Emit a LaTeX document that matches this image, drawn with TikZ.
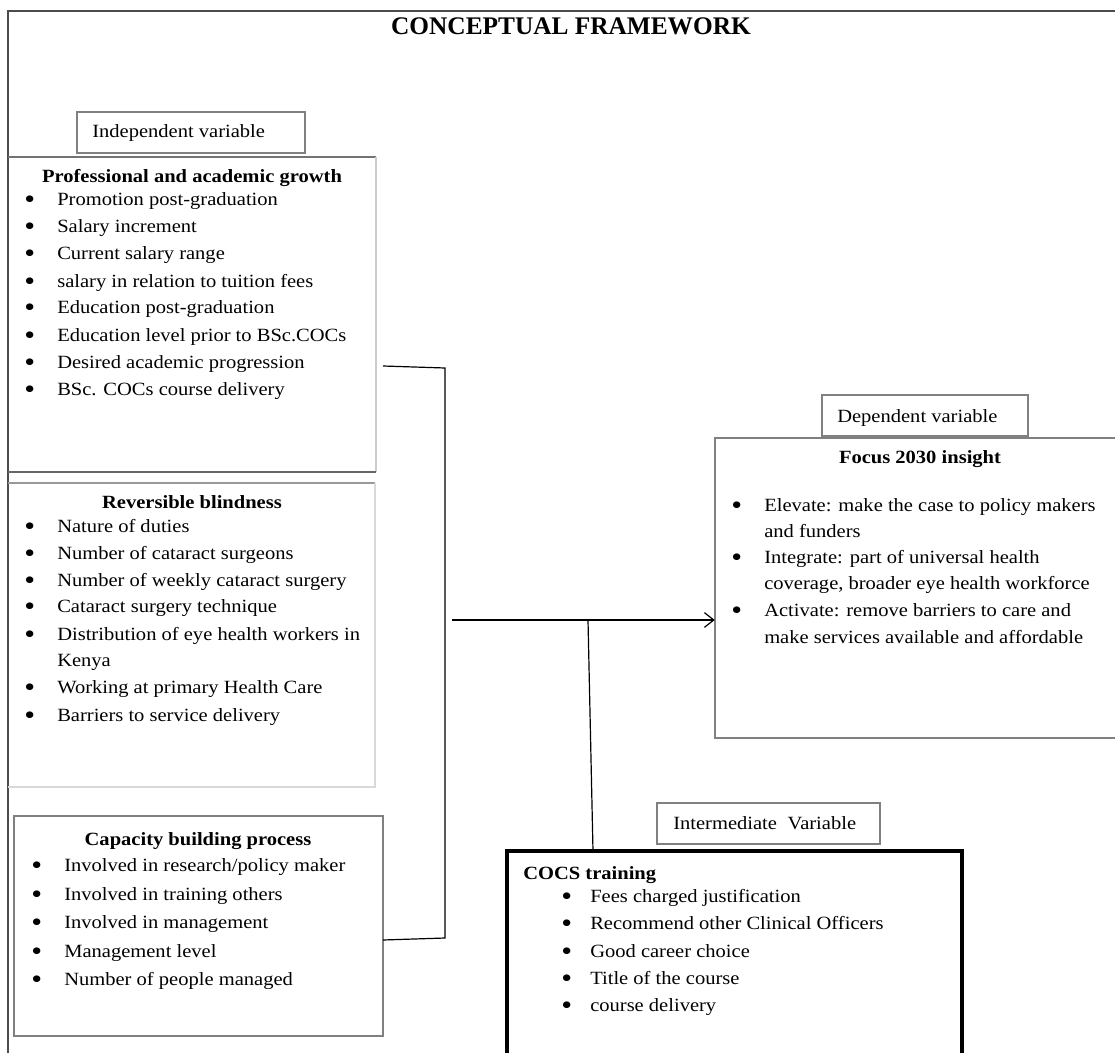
\documentclass[tikz,border=0pt]{standalone}
\usepackage{fontspec}
\setmainfont{Liberation Serif}[FakeStretch=1.1]
\newfontfamily\headfont{Liberation Serif}
\usetikzlibrary{arrows.meta,fit}
\newcommand\bigbul{\raisebox{-2.4pt}{\scalebox{1.5}{\textbullet}}}
\newcommand\bitem[5]{\node[txt] (#1) at (#2,#3) {\makebox[#4][l]{\bigbul}#5};}
\begin{document}
\begin{tikzpicture}[x=0.75pt,y=-0.75pt,
  txt/.style={font=\fontsize{14}{20}\selectfont, inner sep=0, anchor=base west},
  ttl/.style={font=\fontsize{14}{20}\selectfont\bfseries, inner sep=0, anchor=base},
  gbox/.style={draw=black!50, line width=1pt, inner sep=0},
  conn/.style={draw=black, line width=0.9pt},
]
\useasboundingbox (0,0) rectangle (1115,1053);
% outer frame
\draw[black!70, line width=1pt] (8,1060) -- (8,11) -- (1120,11);
% title
\node[font=\headfont\fontsize{19}{22}\selectfont\bfseries, inner sep=0, anchor=base] (title) at (571,35) {CONCEPTUAL FRAMEWORK};

% Independent label
\node[gbox, fit={(77,112)(305,153)}] (indlab) {};
\node[txt] (indtxt) at (92,137) {Independent variable};

% Professional box
\node[fit={(8,157)(376,472)}, inner sep=0] (prof) {};
\draw[black!55, line width=1pt] (8,157) -- (376,157);
\draw[black!20, line width=1pt] (376,157) -- (376,472);
\draw[black!60, line width=1.2pt] (8,472) -- (376,472);
\node[ttl] (proft) at (192,182) {Professional and academic growth};
\bitem{p1}{24}{205}{24.75pt}{Promotion post-graduation}
\bitem{p2}{24}{232}{24.75pt}{Salary increment}
\bitem{p3}{24}{259}{24.75pt}{Current salary range}
\bitem{p4}{24}{287}{24.75pt}{salary in relation to tuition fees}
\bitem{p5}{24}{313}{24.75pt}{Education post-graduation}
\bitem{p6}{24}{341}{24.75pt}{Education level prior to BSc.COCs}
\bitem{p7}{24}{368}{24.75pt}{Desired academic progression}
\bitem{p8}{24}{395}{24.75pt}{BSc. COCs course delivery}

% Reversible blindness box
\node[fit={(8,483)(375,787)}, inner sep=0] (rev) {};
\draw[black!40, line width=1.2pt] (8,483) -- (375,483);
\draw[black!15, line width=1.2pt] (375,483) -- (375,787) -- (8,787);
\node[ttl] (revt) at (192,508) {Reversible blindness};
\bitem{r1}{24}{532}{24.75pt}{Nature of duties}
\bitem{r2}{24}{559}{24.75pt}{Number of cataract surgeons}
\bitem{r3}{24}{586}{24.75pt}{Number of weekly cataract surgery}
\bitem{r4}{24}{612}{24.75pt}{Cataract surgery technique}
\bitem{r5}{24}{640}{24.75pt}{Distribution of eye health workers in}
\node[txt] (r5b) at (57,666) {Kenya};
\bitem{r6}{24}{693}{24.75pt}{Working at primary Health Care}
\bitem{r7}{24}{721}{24.75pt}{Barriers to service delivery}

% Capacity building box
\node[gbox, fit={(14,816)(383,1036)}] (cap) {};
\node[ttl] (capt) at (198,845) {Capacity building process};
\bitem{c1}{31}{871}{24.75pt}{Involved in research/policy maker}
\bitem{c2}{31}{900}{24.75pt}{Involved in training others}
\bitem{c3}{31}{928}{24.75pt}{Involved in management}
\bitem{c4}{31}{957}{24.75pt}{Management level}
\bitem{c5}{31}{985}{24.75pt}{Number of people managed}

% Dependent label and Focus box
\node[gbox, fit={(822,395)(1028,436)}] (deplab) {};
\node[txt] (deptxt) at (837,422) {Dependent variable};
\node[fit={(715,438)(1115,738)}, inner sep=0] (focus) {};
\draw[black!50, line width=1pt] (1120,438) -- (715,438) -- (715,738) -- (1120,738);
\node[ttl] (focust) at (920,463) {Focus 2030 insight};
\bitem{f1}{731}{511}{24.75pt}{Elevate: make the case to policy makers}
\node[txt] (f1b) at (764,537) {and funders};
\bitem{f2}{731}{563}{24.75pt}{Integrate: part of universal health}
\node[txt] (f2b) at (764,589) {coverage, broader eye health workforce};
\bitem{f3}{731}{616}{24.75pt}{Activate: remove barriers to care and}
\node[txt] (f3b) at (764,643) {make services available and affordable};

% Intermediate label and COCS box
\node[gbox, fit={(657,803)(880,844)}] (intlab) {};
\node[txt] (inttxt) at (673,829) {Intermediate\hspace{8pt}Variable};
\node[fit={(507,851)(962,1052)}, inner sep=0] (cocs) {};
\draw[black, line width=2.4pt] (507,1060) -- (507,851) -- (962,851) -- (962,1060);
\node[txt, font=\fontsize{14}{20}\selectfont\bfseries] (cocst) at (523,879) {COCS training};
\bitem{k1}{561}{902}{21.75pt}{Fees charged justification}
\bitem{k2}{561}{929}{21.75pt}{Recommend other Clinical Officers}
\bitem{k3}{561}{957}{21.75pt}{Good career choice}
\bitem{k4}{561}{984}{21.75pt}{Title of the course}
\bitem{k5}{561}{1011}{21.75pt}{course delivery}

% connectors
\coordinate (bA) at (383,366);
\coordinate (bB) at (445,368);
\coordinate (bC) at (445,938);
\coordinate (bD) at (383,940);
\draw[conn] (bA) -- (bB) -- (bC) -- (bD);
\coordinate (jL) at (452,620);
\coordinate (jT) at (588,620);
\coordinate (jB) at (593,851);
\draw[conn, -{Straight Barb[length=7pt,width=11pt]}] (jL) -- (focus.west |- jL);
\draw[conn] (jT) -- (jB);
\end{tikzpicture}
\end{document}
